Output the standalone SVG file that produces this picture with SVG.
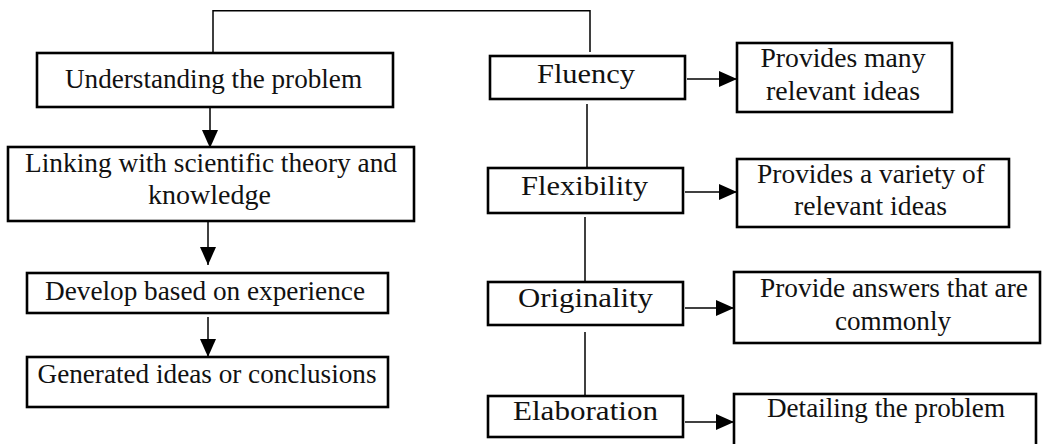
<svg xmlns="http://www.w3.org/2000/svg" width="1042" height="444" viewBox="0 0 1042 444">
<style>
.box{fill:#fff;stroke:#000;stroke-width:2.6}
text{font-family:'Liberation Serif','Times New Roman','DejaVu Serif',serif;font-size:26.5px;fill:#111;text-anchor:middle}
.c{fill:none;stroke:#000;stroke-width:1.5}
</style>
<defs>
<marker id="ah" markerUnits="userSpaceOnUse" markerWidth="19" markerHeight="16" refX="18" refY="8" orient="auto">
<path d="M0,0 L18,8 L0,16 z" fill="#000"/>
</marker>
</defs>
<rect width="1042" height="444" fill="#fff"/>
<g id="connectors">
<polyline class="c" points="213,53 213,10.7 590,10.7 590,52"/>
<line class="c" x1="210" y1="107" x2="210" y2="148" marker-end="url(#ah)"/>
<line class="c" x1="208" y1="221" x2="208" y2="265" marker-end="url(#ah)"/>
<line class="c" x1="208" y1="317" x2="208" y2="357" marker-end="url(#ah)"/>
<line class="c" x1="587" y1="104" x2="587" y2="168"/>
<line class="c" x1="585" y1="217" x2="585" y2="282"/>
<line class="c" x1="585" y1="332" x2="585" y2="396"/>
<line class="c" x1="687" y1="79" x2="737" y2="79" marker-end="url(#ah)"/>
<line class="c" x1="685" y1="192" x2="737" y2="192" marker-end="url(#ah)"/>
<line class="c" x1="685" y1="308" x2="734" y2="308" marker-end="url(#ah)"/>
<line class="c" x1="685" y1="422" x2="734" y2="422" marker-end="url(#ah)"/>
</g>
<g id="understanding">
<rect class="box" x="37" y="53" width="356" height="54"/>
<text x="213.5" y="88" textLength="297" lengthAdjust="spacingAndGlyphs">Understanding the problem</text>
</g>
<g id="linking">
<rect class="box" x="8" y="147" width="406" height="74"/>
<text x="211" y="172" textLength="372" lengthAdjust="spacingAndGlyphs">Linking with scientific theory and</text>
<text x="209.5" y="204" textLength="123" lengthAdjust="spacingAndGlyphs">knowledge</text>
</g>
<g id="develop">
<rect class="box" x="27" y="273" width="361" height="40"/>
<text x="205" y="300" textLength="320" lengthAdjust="spacingAndGlyphs">Develop based on experience</text>
</g>
<g id="generated">
<rect class="box" x="27" y="357" width="361" height="50"/>
<text x="207" y="383" textLength="339" lengthAdjust="spacingAndGlyphs">Generated ideas or conclusions</text>
</g>
<g id="fluency">
<rect class="box" x="490" y="56" width="195" height="43"/>
<text x="586" y="83" textLength="98" lengthAdjust="spacingAndGlyphs">Fluency</text>
</g>
<g id="flexibility">
<rect class="box" x="488" y="168" width="195" height="45"/>
<text x="584.5" y="195" textLength="127" lengthAdjust="spacingAndGlyphs">Flexibility</text>
</g>
<g id="originality">
<rect class="box" x="488" y="282" width="195" height="43"/>
<text x="585.5" y="307" textLength="135" lengthAdjust="spacingAndGlyphs">Originality</text>
</g>
<g id="elaboration">
<rect class="box" x="488" y="396" width="195" height="41"/>
<text x="585.5" y="420" textLength="145" lengthAdjust="spacingAndGlyphs">Elaboration</text>
</g>
<g id="provides-many">
<rect class="box" x="737" y="43" width="215" height="69"/>
<text x="843" y="67" textLength="165" lengthAdjust="spacingAndGlyphs">Provides many</text>
<text x="843" y="100" textLength="154" lengthAdjust="spacingAndGlyphs">relevant ideas</text>
</g>
<g id="provides-variety">
<rect class="box" x="737" y="159" width="272" height="68"/>
<text x="871" y="183" textLength="228" lengthAdjust="spacingAndGlyphs">Provides a variety of</text>
<text x="870.5" y="215" textLength="153" lengthAdjust="spacingAndGlyphs">relevant ideas</text>
</g>
<g id="provide-answers">
<rect class="box" x="734" y="272" width="306" height="71"/>
<text x="894" y="297" textLength="268" lengthAdjust="spacingAndGlyphs">Provide answers that are</text>
<text x="893" y="330" textLength="116" lengthAdjust="spacingAndGlyphs">commonly</text>
</g>
<g id="detailing">
<rect class="box" x="734" y="394" width="302" height="54"/>
<text x="886" y="417" textLength="238" lengthAdjust="spacingAndGlyphs">Detailing the problem</text>
</g>
</svg>
